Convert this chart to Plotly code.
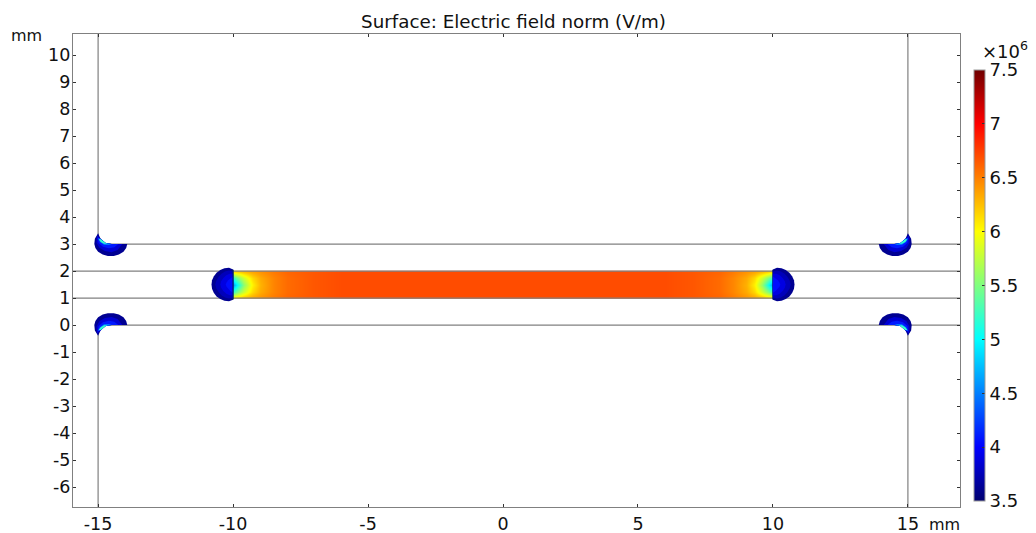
import plotly.graph_objects as go

TITLE = "Surface: Electric field norm (V/m)"
x_ticks = [-15, -10, -5, 0, 5, 10, 15]
x_labels = ["-15", "-10", "-5", "0", "5", "10", "15"]
y_ticks = list(range(-6, 11))
y_labels = [str(v) for v in y_ticks]
cb_ticks = [3.5, 4, 4.5, 5, 5.5, 6, 6.5, 7, 7.5]
cb_labels = ["3.5", "4", "4.5", "5", "5.5", "6", "6.5", "7", "7.5"]

JET = [[0, "#00006f"], [0.125, "#0000ff"], [0.375, "#00ffff"], [0.625, "#ffff00"],
       [0.875, "#ff0000"], [1, "#700000"]]
ZMIN, ZMAX = 3.5, 7.5

# Field in the central channel, left half (V/m, in units of 1e6)
band_x_left = [-10, -9.95, -9.8, -9.6, -9.3, -9, -8.5, -8, -7, -6, -5, -2.5]
band_y = [1, 1.02, 1.25, 1.5, 1.75, 1.98, 2]
band_edge = [6.1, 6.12, 6.18, 6.25, 6.35, 6.42, 6.52, 6.6, 6.66, 6.7, 6.7, 6.7]
band_quarter = [5.2, 5.3, 5.55, 5.8, 6.15, 6.33, 6.48, 6.58, 6.66, 6.7, 6.7, 6.7]
band_mid = [4.6, 4.75, 5.1, 5.55, 6.05, 6.3, 6.48, 6.58, 6.66, 6.7, 6.7, 6.7]

band_x = band_x_left + [0] + [-v for v in band_x_left[::-1]]
def full(row):
    return row + [6.7] + row[::-1]
band_z = [full(band_edge), full(band_edge), full(band_quarter), full(band_mid),
          full(band_quarter), full(band_edge), full(band_edge)]

# Cap on the left end of the channel: nested outline layers and their field values
cap_layers_x = [
    [-10.0, -10.15, -10.32, -10.475, -10.61, -10.71, -10.78, -10.8, -10.78, -10.71, -10.61, -10.475, -10.32, -10.15, -10.0],
    [-10.0, -10.15, -10.3, -10.43, -10.54, -10.62, -10.66, -10.62, -10.54, -10.43, -10.3, -10.15, -10.0],
    [-10.0, -10.12, -10.25, -10.36, -10.44, -10.47, -10.44, -10.36, -10.25, -10.12, -10.0],
    [-10.0, -10.1, -10.18, -10.24, -10.27, -10.24, -10.18, -10.1, -10.0],
]
cap_layers_y = [
    [2.06, 2.12, 2.10, 2.04, 1.94, 1.81, 1.66, 1.5, 1.34, 1.19, 1.06, 0.96, 0.9, 0.88, 0.94],
    [1.98, 2.02, 1.98, 1.9, 1.78, 1.64, 1.5, 1.36, 1.22, 1.1, 1.02, 0.98, 1.02],
    [1.9, 1.9, 1.84, 1.74, 1.62, 1.5, 1.38, 1.26, 1.16, 1.1, 1.1],
    [1.8, 1.74, 1.66, 1.58, 1.5, 1.42, 1.34, 1.26, 1.2],
]
cap_values = [3.62, 3.76, 3.9, 4.05]

# Corner crescent at (-15, 3): nested layers and their field values
cres_layers_x = [
    [-15.0, -15.12, -15.14, -15.10, -15.0, -14.83, -14.64, -14.42, -14.23, -14.06, -13.96, -13.92,
     -14.5, -14.72, -14.9, -15.0],
    [-15.04, -15.06, -14.95, -14.75, -14.5, -14.28, -14.1, -14.5, -14.72, -14.9, -15.04],
    [-15.02, -14.98, -14.82, -14.6, -14.4, -14.25, -14.5, -14.72, -14.9, -15.02],
    [-15.0, -14.93, -14.78, -14.6, -14.5, -14.72, -14.9, -15.0],
    [-14.98, -14.9, -14.78, -14.66, -14.74, -14.9, -14.98],
]
cres_layers_y = [
    [3.4, 3.2, 3.0, 2.85, 2.71, 2.61, 2.56, 2.56, 2.61, 2.71, 2.85, 3.0, 3.0, 3.04, 3.18, 3.4],
    [3.32, 3.05, 2.86, 2.74, 2.7, 2.78, 3.0, 3.0, 3.04, 3.18, 3.32],
    [3.24, 3.04, 2.9, 2.84, 2.88, 3.0, 3.0, 3.04, 3.18, 3.24],
    [3.22, 3.08, 2.97, 2.96, 3.0, 3.04, 3.18, 3.22],
    [3.18, 3.08, 3.01, 3.02, 3.05, 3.18, 3.18],
]
cres_values = [3.62, 3.85, 4.1, 4.5, 5.2]

# Geometry lines (mm)
lines = [
    ([-15, -15], [3, 10.78]), ([15, 15], [3, 10.78]),
    ([-15, -15], [0, -6.74]), ([15, 15], [0, -6.74]),
    ([-15, 16.93], [3, 3]), ([-15, 16.93], [0, 0]),
    ([-15.93, 16.93], [2, 2]), ([-15.93, 16.93], [1, 1]),
]


def color_of(z):
    t = (z - ZMIN) / (ZMAX - ZMIN)
    for (a, ca), (b, cb) in zip(JET, JET[1:]):
        if a <= t <= b:
            f = (t - a) / (b - a)
            va = [int(ca[i:i + 2], 16) for i in (1, 3, 5)]
            vb = [int(cb[i:i + 2], 16) for i in (1, 3, 5)]
            return "rgb(%d,%d,%d)" % tuple(round(p + (q - p) * f) for p, q in zip(va, vb))
    return JET[-1][1]


fig = go.Figure()
fig.add_trace(go.Heatmap(
    x=band_x, y=band_y, z=band_z, zmin=ZMIN, zmax=ZMAX, colorscale=JET, zsmooth="best",
    hoverinfo="skip",
    colorbar=dict(
        thickness=11, thicknessmode="pixels", x=1.0158, xanchor="left", xpad=0,
        y=0.0127, yanchor="bottom", ypad=0, len=0.9112, lenmode="fraction",
        tickmode="array", tickvals=cb_ticks, ticktext=cb_labels, ticks="inside", ticklen=3,
        tickcolor="#333", outlinecolor="#999", outlinewidth=1, borderwidth=0,
        tickfont=dict(family="DejaVu Sans", size=18, color="#111"),
    ),
))


def poly(xs, ys, z):
    fig.add_trace(go.Scatter(x=xs, y=ys, mode="lines", fill="toself", fillcolor=color_of(z),
                             line=dict(width=0), hoverinfo="skip", showlegend=False))


for xs, ys in lines:
    fig.add_trace(go.Scatter(x=xs, y=ys, mode="lines", line=dict(color="#808080", width=1.2),
                             hoverinfo="skip", showlegend=False))
for sx in (1, -1):
    for xs, ys, z in zip(cap_layers_x, cap_layers_y, cap_values):
        poly([sx * v for v in xs], ys, z)
    for flip in (False, True):
        for xs, ys, z in zip(cres_layers_x, cres_layers_y, cres_values):
            poly([sx * v for v in xs], [3 - v for v in ys] if flip else ys, z)
    fig.add_trace(go.Scatter(x=[sx * 10, sx * 10], y=[0.95, 2.05], mode="lines",
                             line=dict(color="#00206a", width=1.3), hoverinfo="skip", showlegend=False))

axis_font = dict(family="DejaVu Sans", size=17.5, color="#111")
common = dict(showgrid=False, zeroline=False, showline=True, mirror="ticks", linecolor="#808080", linewidth=1.2,
              ticks="inside", ticklen=3, tickcolor="#333", tickfont=axis_font, tickmode="array")
fig.update_xaxes(range=[-15.93, 16.93], tickvals=x_ticks, ticktext=x_labels, ticklabelstandoff=1, **common)
fig.update_yaxes(range=[-6.74, 10.78], tickvals=y_ticks, ticktext=y_labels, ticklabelstandoff=-2, **common)
ann_font = dict(family="DejaVu Sans", size=16, color="#111")
fig.update_layout(
    width=1028, height=525, margin=dict(l=65, r=76, t=26, b=26, pad=0, autoexpand=False),
    paper_bgcolor="white", plot_bgcolor="white", showlegend=False,
    font=dict(family="DejaVu Sans", color="#111"),
    title=dict(text=TITLE, x=510.5 / 1028, xanchor="center", xref="paper", y=1 - 14 / 525, yanchor="middle",
               font=dict(family="DejaVu Sans", size=18.3, color="#111")),
    annotations=[
        dict(text="mm", xref="paper", yref="paper", x=-0.0519, y=0.9958, xanchor="center", yanchor="middle",
             showarrow=False, font=ann_font),
        dict(text="mm", xref="paper", yref="paper", x=0.983, y=-0.038, xanchor="center", yanchor="middle",
             showarrow=False, font=ann_font),
        dict(text="×10<sup>6</sup>", xref="paper", yref="paper", x=1.0507, y=0.966, xanchor="center", yanchor="middle",
             showarrow=False, font=dict(family="DejaVu Sans", size=18, color="#111")),
    ],
    shapes=[
        dict(type="rect", xref="paper", yref="paper", x0=1.0789, x1=1.0846, y0=1.0402, y1=1.055,
             fillcolor="#7fa6d8", line=dict(width=0), layer="above"),
        dict(type="rect", xref="paper", yref="paper", x0=1.0812, x1=1.0846, y0=1.0444, y1=1.0529,
             fillcolor="#f2d43c", line=dict(width=0), layer="above"),
    ],
)
fig.write_html("out.html")
